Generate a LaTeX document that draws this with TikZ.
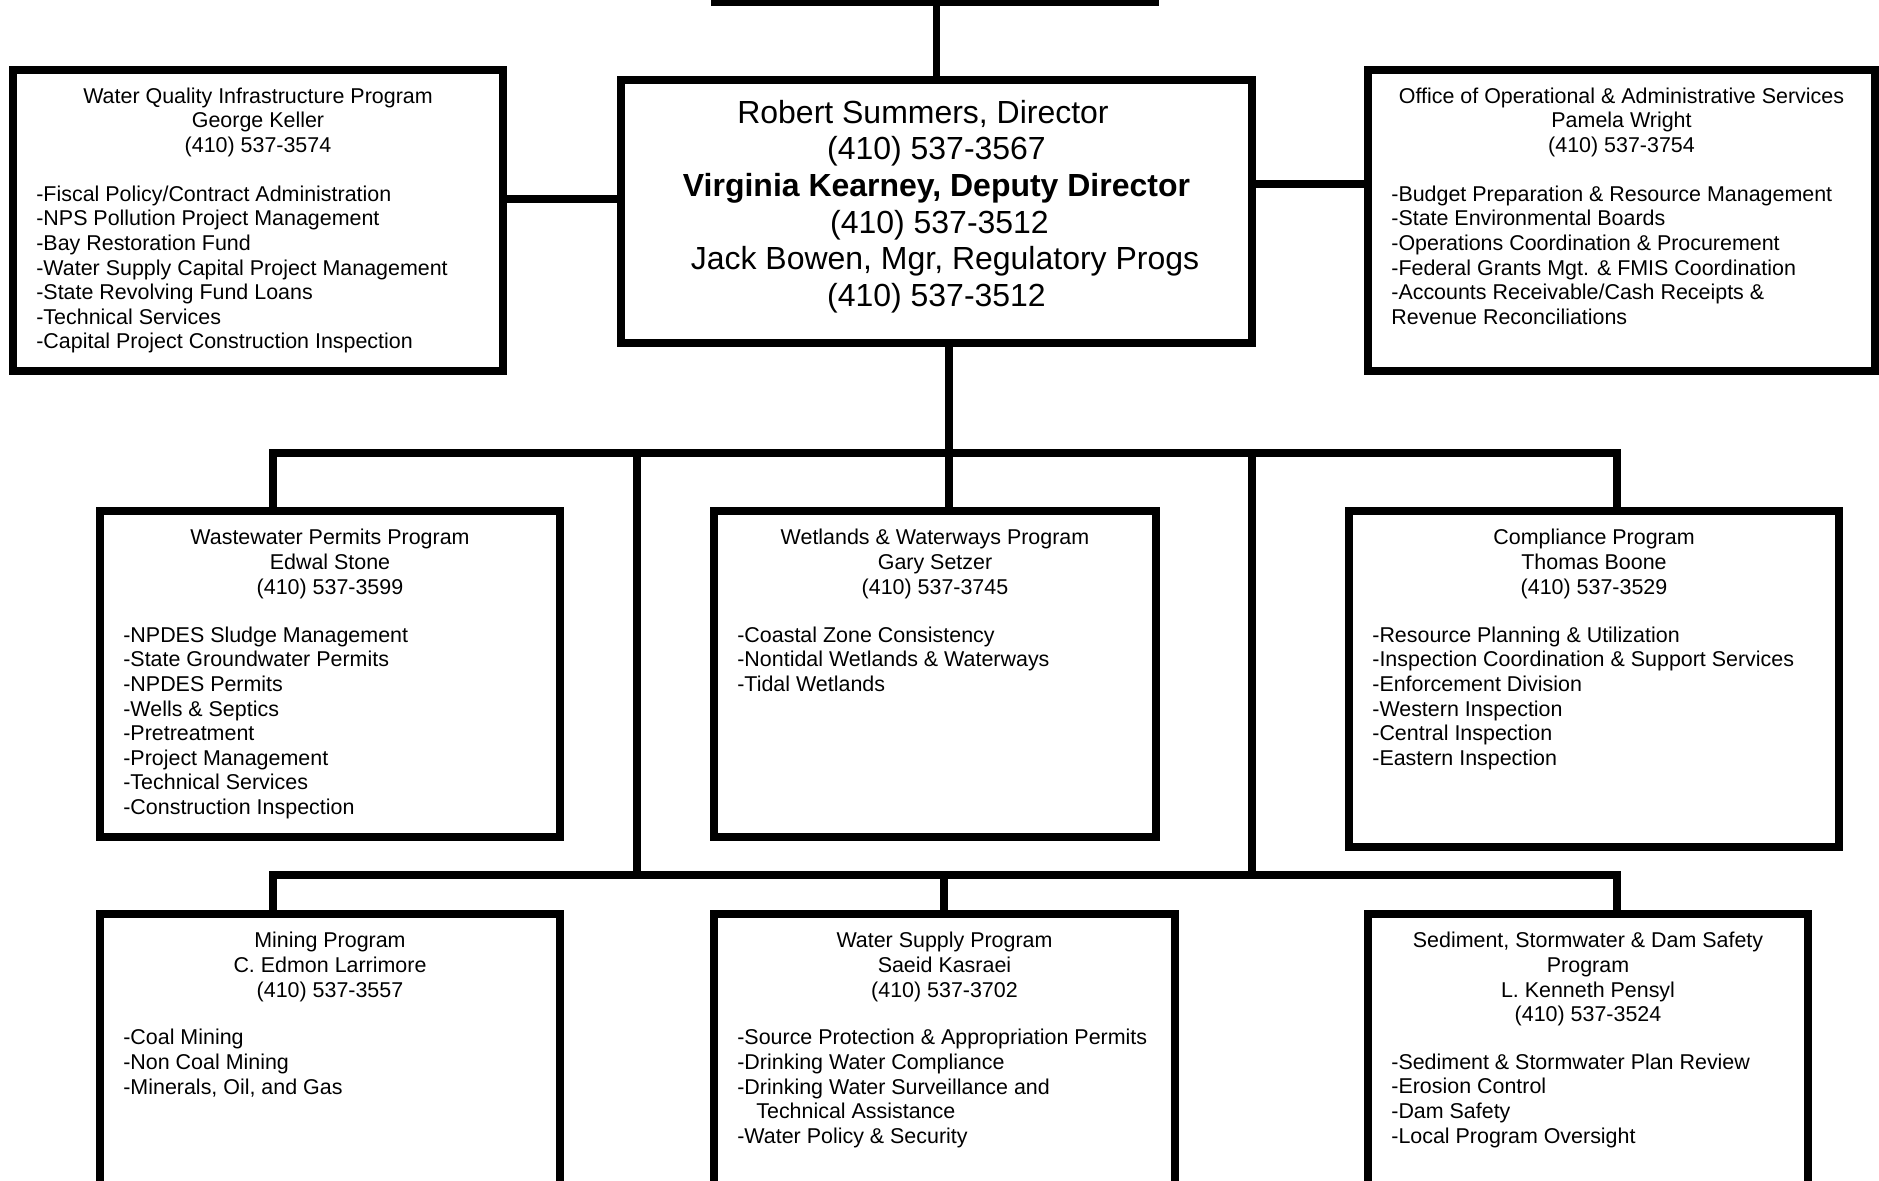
\documentclass[tikz,border=0pt]{standalone}
\usepackage{fontspec}
\setmainfont{Liberation Sans}
\usetikzlibrary{fit}

\begin{document}
\begin{tikzpicture}[x=0.02cm, y=-0.02cm,
      box/.style={draw, line width=0.16cm, inner sep=0pt},
      link/.style={line width=0.15cm},
      head/.style={anchor=north, align=center, inner sep=0pt, font=\fontsize{12.2}{14}\selectfont},
      items/.style={anchor=north west, align=left, inner sep=0pt, font=\fontsize{12.2}{14}\selectfont},
      chief/.style={anchor=north, align=center, inner sep=0pt, font=\fontsize{18.2}{20.9}\selectfont}]
      \useasboundingbox (0,0) rectangle (1879,1180);
      \clip (0,0) rectangle (1879,1180);
      % Boxes
      \node[box, fit={(715,-60) (1155,2)}] (top) {};
      \node[box, fit={(621,79.5) (1252,342.5)}] (dir) {};
      \node[box, fit={(13,69.5) (503,371)}] (wqi) {};
      \node[box, fit={(1368,69.5) (1875,371)}] (office) {};
      \node[box, fit={(100,511) (560,837)}] (ww) {};
      \node[box, fit={(714,511) (1156,837)}] (wet) {};
      \node[box, fit={(1349,511) (1839,847)}] (comp) {};
      \node[box, fit={(100,914) (560,1260)}] (mine) {};
      \node[box, fit={(714,914) (1175,1260)}] (ws) {};
      \node[box, fit={(1368,914) (1808,1260)}] (sed) {};
      % Director
      \node[chief] (dir-t) at (936.5,99.5) {Robert Summers, Director\hspace*{0.54cm}\\(410) 537-3567\\\textbf{Virginia Kearney, Deputy Director}\\\hspace*{0.12cm}(410) 537-3512\\\hspace*{0.34cm}Jack Bowen, Mgr, Regulatory Progs\\(410) 537-3512};
      % Top row
      \node[head] (wqi-t) at (258,87.5) {Water Quality Infrastructure Program\\George Keller\\(410) 537-3574};
      \node[items] (wqi-l) at (36,185.5) {-Fiscal Policy/Contract Administration\\-NPS Pollution Project Management\\-Bay Restoration Fund\\-Water Supply Capital Project Management\\-State Revolving Fund Loans\\-Technical Services\\-Capital Project Construction Inspection};
      \node[head] (office-t) at (1621.5,87.5) {Office of Operational \& Administrative Services\\Pamela Wright\\(410) 537-3754};
      \node[items] (office-l) at (1391,185.5) {-Budget Preparation \& Resource Management\\-State Environmental Boards\\-Operations Coordination \& Procurement\\-Federal Grants Mgt. \& FMIS Coordination\\-Accounts Receivable/Cash Receipts \&\\Revenue Reconciliations};
      % Middle row
      \node[head] (ww-t) at (330,529) {Wastewater Permits Program\\Edwal Stone\\(410) 537-3599};
      \node[items] (ww-l) at (123,626.5) {-NPDES Sludge Management\\-State Groundwater Permits\\-NPDES Permits\\-Wells \& Septics\\-Pretreatment\\-Project Management\\-Technical Services\\-Construction Inspection};
      \node[head] (wet-t) at (935,529) {Wetlands \& Waterways Program\\Gary Setzer\\(410) 537-3745};
      \node[items] (wet-l) at (737,626.5) {-Coastal Zone Consistency\\-Nontidal Wetlands \& Waterways\\-Tidal Wetlands};
      \node[head] (comp-t) at (1594,529) {Compliance Program\\Thomas Boone\\(410) 537-3529};
      \node[items] (comp-l) at (1372,626.5) {-Resource Planning \& Utilization\\-Inspection Coordination \& Support Services\\-Enforcement Division\\-Western Inspection\\-Central Inspection\\-Eastern Inspection};
      % Bottom row
      \node[head] (mine-t) at (330,932) {Mining Program\\C. Edmon Larrimore\\(410) 537-3557};
      \node[items] (mine-l) at (123,1029) {-Coal Mining\\-Non Coal Mining\\-Minerals, Oil, and Gas};
      \node[head] (ws-t) at (944.5,932) {Water Supply Program\\Saeid Kasraei\\(410) 537-3702};
      \node[items] (ws-l) at (737,1029) {-Source Protection \& Appropriation Permits\\-Drinking Water Compliance\\-Drinking Water Surveillance and\\\hspace*{0.38cm}Technical Assistance\\-Water Policy \& Security};
      \node[head] (sed-t) at (1588,932) {Sediment, Stormwater \& Dam Safety\\Program\\L. Kenneth Pensyl\\(410) 537-3524};
      \node[items] (sed-l) at (1391,1053.5) {-Sediment \& Stormwater Plan Review\\-Erosion Control\\-Dam Safety\\-Local Program Oversight};
      % Connector levels
      \coordinate (lj) at (0,199);
      \coordinate (rj) at (0,184);
      \coordinate (a1) at (273,453);
      \coordinate (a2) at (637,453);
      \coordinate (a3) at (949,453);
      \coordinate (a4) at (1252,453);
      \coordinate (a5) at (1617,453);
      \coordinate (b1) at (273,875);
      \coordinate (b3) at (944,875);
      \coordinate (b5) at (1617,875);
      % Links to director
      \draw[link] (dir.north) -- (dir.north |- top.south);
      \draw[link] (wqi.east |- lj) -- (dir.west |- lj);
      \draw[link] (dir.east |- rj) -- (office.west |- rj);
      \draw[link] (dir.south -| a3) -- (wet.north -| a3);
      % Upper bus
      \draw[link] (ww.north -| a1) -- (a1) -- (a5) -- (comp.north -| a5);
      \draw[link] (a2) -- (a2 |- b1);
      \draw[link] (a4) -- (a4 |- b1);
      % Lower bus
      \draw[link] (mine.north -| b1) -- (b1) -- (b5) -- (sed.north -| b5);
      \draw[link] (b3) -- (ws.north -| b3);
\end{tikzpicture}
\end{document}
